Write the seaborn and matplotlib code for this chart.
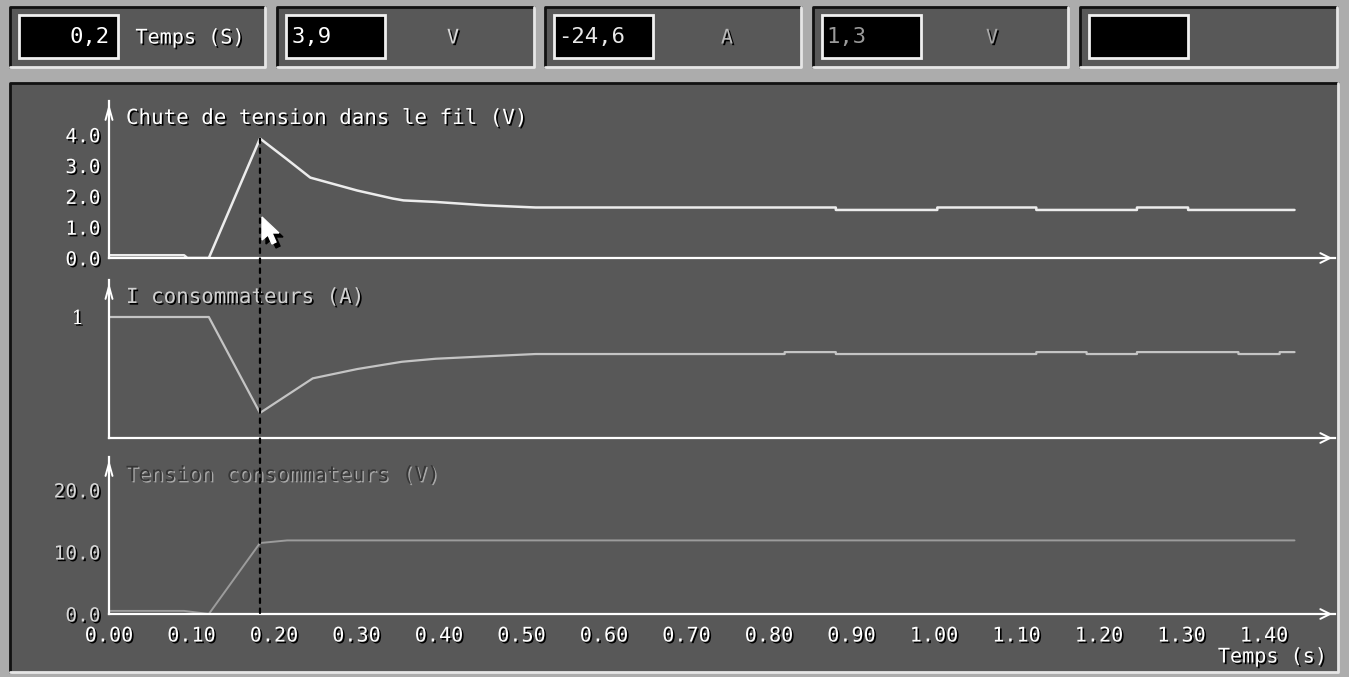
import matplotlib
matplotlib.use("Agg")
import matplotlib.pyplot as plt
import matplotlib.patheffects as pe
from matplotlib.patches import Rectangle, Polygon, ConnectionPatch
import seaborn as sns

W, H = 1349, 677

# --- data ---
t_drop = [0.0, 0.091, 0.095, 0.121, 0.183, 0.215, 0.244, 0.301, 0.344, 0.357, 0.396,
          0.456, 0.517, 0.881, 0.881, 1.004, 1.004, 1.124, 1.124, 1.246, 1.246,
          1.308, 1.308, 1.437]
v_drop = [0.09, 0.09, 0.0, 0.0, 3.88, 3.22, 2.61, 2.19, 1.93, 1.87, 1.82,
          1.71, 1.64, 1.64, 1.56, 1.56, 1.64, 1.64, 1.56, 1.56, 1.64,
          1.64, 1.56, 1.56]

t_cur = [0.0, 0.121, 0.183, 0.247, 0.301, 0.355, 0.396, 0.457, 0.517, 0.819, 0.819,
         0.881, 0.881, 1.124, 1.124, 1.185, 1.185, 1.246, 1.246, 1.369, 1.369,
         1.419, 1.419, 1.437]
i_cur = [1.0, 1.0, 0.207, 0.493, 0.57, 0.63, 0.655, 0.675, 0.694, 0.694, 0.71,
         0.71, 0.694, 0.694, 0.71, 0.71, 0.694, 0.694, 0.71, 0.71, 0.694,
         0.694, 0.71, 0.71]

t_load = [0.0, 0.091, 0.121, 0.183, 0.216, 1.437]
v_load = [0.5, 0.5, 0.0, 11.45, 11.87, 11.87]

x_ticks = [0.0, 0.1, 0.2, 0.3, 0.4, 0.5, 0.6, 0.7, 0.8, 0.9, 1.0, 1.1, 1.2, 1.3, 1.4]
x_tick_labels = ["0.00", "0.10", "0.20", "0.30", "0.40", "0.50", "0.60", "0.70",
                 "0.80", "0.90", "1.00", "1.10", "1.20", "1.30", "1.40"]
drop_ticks = [0, 1, 2, 3, 4]
drop_tick_labels = ["0.0", "1.0", "2.0", "3.0", "4.0"]
cur_ticks = [1]
cur_tick_labels = ["1"]
load_ticks = [0, 10, 20]
load_tick_labels = ["0.0", "10.0", "20.0"]

cursor_t = 0.183
readouts = ["0,2", "3,9", "-24,6", "1,3", ""]
units = ["Temps (S)", "V", "A", "V", ""]
titles = ["Chute de tension dans le fil (V)", "I consommateurs (A)",
          "Tension consommateurs (V)"]
x_label = "Temps (s)"

# --- style ---
sns.set_style("dark")
plt.rcParams["font.family"] = ["DejaVu Sans Mono", "DejaVu Sans"]

BG = "#acacac"
PANEL = "#585858"
LIGHT = "#e6e6e6"
shadow = [pe.withSimplePatchShadow(offset=(1.2, -1.2), shadow_rgbFace="black", alpha=1)]
emboss = [pe.withSimplePatchShadow(offset=(1.0, -1.0), shadow_rgbFace="#a8a8a8", alpha=1)]

fig = plt.figure(figsize=(W / 100, H / 100), dpi=100, facecolor=BG)
bg = fig.add_axes([0, 0, 1, 1])
bg.set_xlim(0, W)
bg.set_ylim(H, 0)
bg.axis("off")


def bevel(x0, y0, x1, y1):
    bg.add_patch(Rectangle((x0, y0), x1 - x0, y1 - y0, facecolor=PANEL, edgecolor="none"))
    bg.plot([x0, x0, x1], [y1, y0, y0], color="#111111", lw=2)
    bg.plot([x0, x1, x1], [y1, y1, y0], color=LIGHT, lw=2)


# top readout bar
panel_x = [(10, 265), (277, 534), (545, 801), (813, 1068), (1080, 1337)]
readout_x = [110, 292, 558, 826, None]
readout_ha = ["right", "left", "left", "left", "left"]
readout_col = ["white", "white", "#e8e8e8", "#9a9a9a", "white"]
unit_x = [190, 453, 727, 992, None]
unit_col = ["white", "#d8d8d8", "#b8b8b8", "#a8a8a8", "white"]
for k, (x0, x1) in enumerate(panel_x):
    bevel(x0, 7, x1, 67)
    bg.add_patch(Rectangle((x0 + 9, 15), 99, 43, facecolor="black",
                           edgecolor="#f0f0f0", lw=2))
    if readouts[k]:
        bg.text(readout_x[k], 37, readouts[k], color=readout_col[k], fontsize=16,
                ha=readout_ha[k], va="center")
    if units[k]:
        bg.text(unit_x[k], 38, units[k], color=unit_col[k], fontsize=14.5,
                ha="center", va="center", path_effects=shadow)

# main plot panel
bevel(10, 83, 1338, 672)


def px_axes(x0, ytop, x1, ybot):
    return fig.add_axes([x0 / W, 1 - ybot / H, (x1 - x0) / W, (ybot - ytop) / H])


X0, X1 = 109, 1335
T_MAX = (X1 - X0) / 825.0

ax1 = px_axes(X0, 101, X1, 258)
ax2 = px_axes(X0, 280, X1, 438)
ax3 = px_axes(X0, 457, X1, 614)

sns.lineplot(x=t_drop, y=v_drop, ax=ax1, color="#ececec", lw=1.8,
             estimator=None, sort=False)
sns.lineplot(x=t_cur, y=i_cur, ax=ax2, color="#c4c4c4", lw=1.6,
             estimator=None, sort=False)
sns.lineplot(x=t_load, y=v_load, ax=ax3, color="#9c9c9c", lw=1.4,
             estimator=None, sort=False)

ax1.set_ylim(0, 157 / 30.8)
ax2.set_ylim(0, 158 / 121.0)
ax3.set_ylim(0, 157 / 6.2)

yt = [(ax1, drop_ticks, drop_tick_labels, "white", "DejaVu Sans Mono", 4, 2),
      (ax2, cur_ticks, cur_tick_labels, "white", "DejaVu Serif", 0, 18),
      (ax3, load_ticks, load_tick_labels, "#d6d6d6", "DejaVu Sans Mono", 4, 2)]

for ax, ticks, labels, col, fam, tlen, tpad in yt:
    ax.set_xlim(0, T_MAX)
    ax.set_facecolor("none")
    ax.grid(False)
    for s in ("top", "right"):
        ax.spines[s].set_visible(False)
    for s in ("left", "bottom"):
        ax.spines[s].set_color("white")
        ax.spines[s].set_linewidth(1.6)
    ax.set_xticks(x_ticks)
    ax.set_yticks(ticks)
    ax.set_yticklabels(labels, color=col, fontsize=14, family=fam)
    ax.tick_params(axis="x", direction="out", length=4, width=1.3, colors="white",
                   labelsize=14.5, pad=5)
    ax.tick_params(axis="y", direction="out", length=tlen,
                   width=1.3, colors="white", pad=tpad)
    for lab in ax.get_yticklabels():
        lab.set_color(col)
        lab.set_path_effects(shadow)
    if ax is not ax3:
        ax.set_xticklabels([])
    ax.annotate("", xy=(0, 1.0), xytext=(0, 0.9), xycoords="axes fraction",
                arrowprops=dict(arrowstyle="->,head_length=0.9,head_width=0.25",
                                color="white", lw=1.4))
    ax.annotate("", xy=(1.0, 0), xytext=(0.99, 0), xycoords="axes fraction",
                arrowprops=dict(arrowstyle="->,head_length=0.7,head_width=0.35",
                                color="white", lw=1.4))

ax3.set_xticklabels(x_tick_labels)
for lab in ax3.get_xticklabels():
    lab.set_color("white")
    lab.set_path_effects(shadow)

# panel titles
title_y = [118, 297, 475]
title_col = ["white", "#d0d0d0", "#363636"]
title_eff = [shadow, shadow, emboss]
for k in range(3):
    bg.text(126, title_y[k], titles[k], color=title_col[k], fontsize=15,
            ha="left", va="center", path_effects=title_eff[k])

bg.text(1327, 657, x_label, color="white", fontsize=14.5, ha="right", va="center",
        path_effects=shadow)

# dotted cursor line from the peak down to the bottom axis
cur = ConnectionPatch(xyA=(cursor_t, max(v_drop)), coordsA=ax1.transData,
                      xyB=(cursor_t, 0), coordsB=ax3.transData,
                      color="black", lw=1.6, linestyle=(0, (2, 2.5)))
fig.add_artist(cur)

# mouse pointer
tip_x, tip_y = 262, 217
arrow_shape = [(0, 0), (0, 23), (6, 18), (10, 27), (14, 25), (10, 16), (17, 16)]
bg.add_patch(Polygon([(tip_x + 4 + a, tip_y + 4 + b) for a, b in arrow_shape],
                     closed=True, facecolor="black", edgecolor="black"))
bg.add_patch(Polygon([(tip_x + a, tip_y + b) for a, b in arrow_shape],
                     closed=True, facecolor="white", edgecolor="white"))

fig.savefig("out.png", dpi=100, facecolor=BG)
